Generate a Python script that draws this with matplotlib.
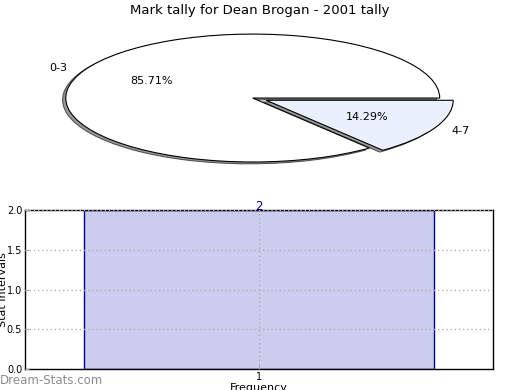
import matplotlib
matplotlib.use("Agg")
import matplotlib.pyplot as plt

# ---------------------- DATA ----------------------
TITLE = "Mark tally for Dean Brogan - 2001 tally"
pie_labels = ["0-3", "4-7"]
pie_counts = [6, 1]
pie_colors = ["#ffffff", "#eaf0fd"]
pie_explode = [0.0, 0.08]

bar_pos = [1]
bar_vals = [2]
bar_ticks = ["1"]

fig = plt.figure(figsize=(5.2, 3.9), dpi=100)

# ---------------------- PIE ----------------------
ax1 = fig.add_axes([0.0365, 0.5436, 0.899, 0.41])
wedges, texts, autotexts = ax1.pie(
    pie_counts,
    labels=pie_labels,
    colors=pie_colors,
    explode=pie_explode,
    autopct="%1.2f%%",
    shadow={"ox": -0.012, "oy": -0.02, "facecolor": "#999999",
            "edgecolor": "#555555", "linewidth": 0.8, "alpha": 1.0},
    startangle=0,
    wedgeprops={"edgecolor": "black", "linewidth": 0.8},
    textprops={"fontsize": 8},
)
ax1.set_aspect("auto")
ax1.set_xlim(-1.25, 1.25)
ax1.set_ylim(-1.25, 1.25)
ax1.axis("off")
fig.text(0.499, 0.974, TITLE, ha="center", va="center", fontsize=9.5)

# ---------------------- BAR ----------------------
ax2 = fig.add_axes([25 / 520, 21 / 390, 468 / 520, 159 / 390])
ax2.bar(bar_pos, bar_vals, width=0.748, color="#ccccee",
        edgecolor="#000080", linewidth=1, zorder=1)
for x, v in zip(bar_pos, bar_vals):
    ax2.text(x, v + 0.04, f"{v}", ha="center", va="center", fontsize=8.5,
             color="#000080", zorder=5)
ax2.set_xlim(0.5, 1.5)
ax2.set_ylim(0, 2.0)
ax2.set_yticks([0.0, 0.5, 1.0, 1.5, 2.0])
ax2.set_yticklabels(["0.0", "0.5", "1.0", "1.5", "2.0"], fontsize=7)
ax2.set_xticks(bar_pos)
ax2.set_xticklabels(bar_ticks, fontsize=7)
ax2.tick_params(direction="in", length=3, color="#aaaaaa", pad=2)
ax2.grid(True, linestyle=(0, (1, 2)), color="#b0b0b0", linewidth=1, zorder=2)
ax2.set_axisbelow(False)
for s in ax2.spines.values():
    s.set_linewidth(1)
ax2.set_ylabel("Stat Intervals", fontsize=8)
ax2.yaxis.set_label_coords(-0.036, 0.5)
ax2.set_xlabel("Frequency", fontsize=8)
ax2.xaxis.set_label_coords(0.5, -0.088)

fig.text(0.0, 10 / 390, "Dream-Stats.com", ha="left", va="center",
         fontsize=8.5, color="#8c8c8c")

fig.savefig("out.png", dpi=100)
